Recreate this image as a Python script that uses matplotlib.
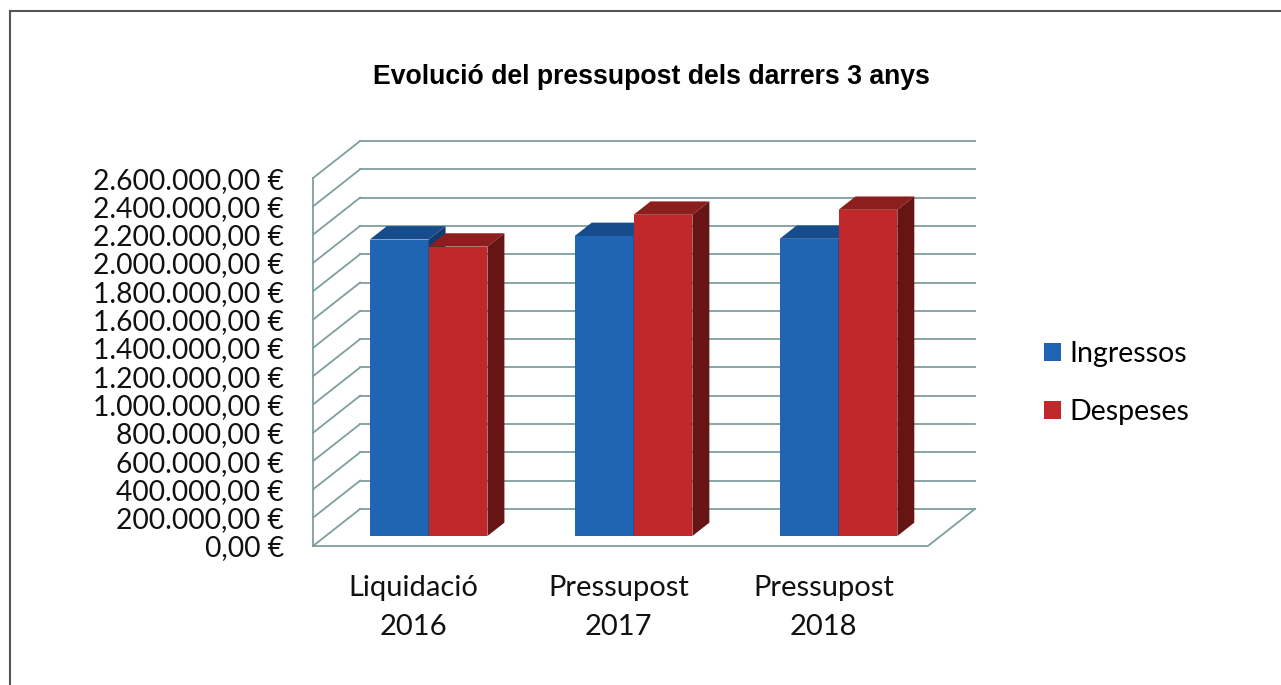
import numpy as np
import matplotlib.pyplot as plt
from matplotlib.patches import Polygon, Patch
from matplotlib.lines import Line2D

# dades
categories = ["Liquidació\n2016", "Pressupost\n2017", "Pressupost\n2018"]
ingressos = [2095000, 2120000, 2100000]
despeses = [2045000, 2270000, 2305000]
series_names = ["Ingressos", "Despeses"]
y_ticks = np.arange(0, 2600001, 200000)

# colors (cara frontal, superior, lateral)
blue = ("#1F65B3", "#174C8C", "#123C70")
red = ("#C1282B", "#8C1E1E", "#661414")
grid_col = "#7F9E9E"

# perspectiva obliqua (en unitats de dades)
DX = 0.23
DY = 262000
F0, F1 = 0.27, 0.63      # profunditat davant/darrere de les barres
X_LEFT, X_RIGHT = -0.49, 2.51
Y_TOP = y_ticks[-1]
W = 0.287

plt.rcParams['font.family'] = ['Lato', 'DejaVu Sans']

fig = plt.figure(figsize=(12.81, 6.85), dpi=100)
ax = fig.add_axes([313 / 1281, 1 - 546 / 685, 662 / 1281, 405 / 685])
ax.set_xlim(X_LEFT, X_RIGHT + DX)
ax.set_ylim(0, Y_TOP + DY)


def sh(x, y, f):
    return (x + f * DX, y + f * DY)


# parets: línies de la quadrícula
for v in y_ticks:
    ax.plot([X_LEFT, X_LEFT + DX], [v, v + DY], color=grid_col, lw=1.3, zorder=1, clip_on=False)
    ax.plot([X_LEFT + DX, X_RIGHT + DX], [v + DY, v + DY], color=grid_col, lw=1.3, zorder=1, clip_on=False)
ax.plot([X_LEFT, X_LEFT], [0, Y_TOP], color=grid_col, lw=1.3, zorder=1, clip_on=False)
ax.plot([X_LEFT, X_RIGHT, X_RIGHT + DX], [0, 0, DY], color=grid_col, lw=1.3, zorder=1, clip_on=False)

# barres 3D
x = np.arange(len(categories))
for vals, cols, off in [(ingressos, blue, -W + 0.012), (despeses, red, 0.012)]:
    for xi, v in zip(x, vals):
        x0 = xi + off
        ax.bar(x0 + F0 * DX, v, width=W, bottom=F0 * DY, align='edge',
               color=cols[0], zorder=3)
        top = [sh(x0, v, F0), sh(x0 + W, v, F0), sh(x0 + W, v, F1), sh(x0, v, F1)]
        side = [sh(x0 + W, 0, F0), sh(x0 + W, 0, F1), sh(x0 + W, v, F1), sh(x0 + W, v, F0)]
        ax.add_patch(Polygon(top, closed=True, facecolor=cols[1], edgecolor='none', zorder=3))
        ax.add_patch(Polygon(side, closed=True, facecolor=cols[2], edgecolor='none', zorder=3))

for s in ax.spines.values():
    s.set_visible(False)
ax.set_facecolor('none')

ax.set_yticks(y_ticks)
ax.set_yticklabels([f"{v:,.2f}".replace(",", "X").replace(".", ",").replace("X", ".") + " €"
                    for v in y_ticks], fontsize=20.3, color='#111111')
ax.set_xticks(x)
ax.set_xticklabels(categories, fontsize=21, color='#111111', linespacing=1.6)
ax.tick_params(axis='y', length=0, pad=21)
ax.tick_params(axis='x', length=0, pad=21)

fig.text(651 / 1281, 1 - 77 / 685, "Evolució del pressupost dels darrers 3 anys",
         ha='center', va='center', fontsize=19.2, fontweight='bold', family='Liberation Sans')

handles = [Patch(facecolor=blue[0]), Patch(facecolor=red[0])]
fig.legend(handles, series_names, loc='center left', bbox_to_anchor=(1018 / 1281, 1 - 383 / 685),
           frameon=False, fontsize=20.5, handlelength=0.6, handleheight=0.6,
           handletextpad=0.3, labelspacing=1.1)

# marc
fig.add_artist(Line2D([10 / 1281, 1], [1 - 11 / 685, 1 - 11 / 685], color='#555555', lw=1.5))
fig.add_artist(Line2D([10 / 1281, 10 / 1281], [0, 1 - 11 / 685], color='#555555', lw=1.5))

fig.savefig("out.png", dpi=100)
